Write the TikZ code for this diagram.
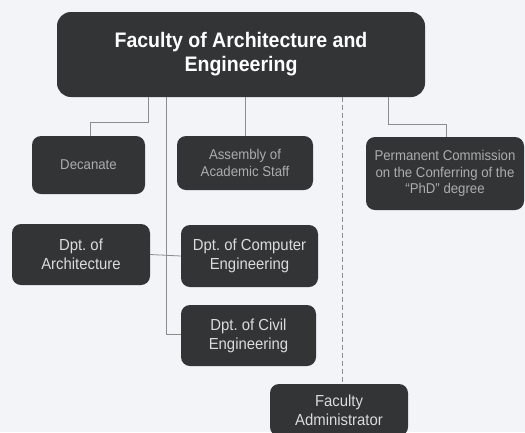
\documentclass[tikz,border=0pt]{standalone}
\usepackage{fontspec}
\setmainfont{Liberation Sans}[FakeStretch=0.93]
\begin{document}
\frenchspacing
\begin{tikzpicture}[x=1pt,y=-1pt,
  unit/.style={fill=boxgrey, rounded corners=9pt, inner sep=0pt, align=center},
  headbox/.style={unit, rounded corners=14pt, text=white, font=\bfseries\fontsize{21}{24}\selectfont},
  dptbox/.style={unit, text=white!86!black, font=\fontsize{16}{19}\selectfont},
  bodybox/.style={unit, text=white!68!black, font=\fontsize{14.2}{16.5}\selectfont},
  link/.style={draw=linegrey, line width=0.8pt},
  dashlink/.style={link, dashed, dash pattern=on 5pt off 3pt}]
\definecolor{boxgrey}{HTML}{333436}
\definecolor{linegrey}{HTML}{8A8C90}
\definecolor{paper}{HTML}{F3F4F7}
\fill[paper] (0,0) rectangle (525,432);
\useasboundingbox (0,0) rectangle (525,432);

% boxes
\node[headbox, minimum width=368pt, minimum height=85pt] (fac) at (241,54.5)
  {Faculty of Architecture and\\Engineering};
\node[bodybox, minimum width=113pt, minimum height=58pt] (dec) at (88.5,165) {Decanate};
\node[bodybox, minimum width=136pt, minimum height=54pt] (asm) at (245,163)
  {Assembly of\\Academic Staff};
\node[bodybox, minimum width=158pt, minimum height=73pt] (phd) at (445,173.5)
  {Permanent Commission\\on the Conferring of the\\``PhD'' degree};
\node[dptbox, minimum width=138pt, minimum height=61pt] (arch) at (81,254.5)
  {Dpt. of\\Architecture};
\node[dptbox, minimum width=137pt, minimum height=62pt] (comp) at (249.5,256)
  {Dpt. of Computer\\Engineering};
\node[dptbox, minimum width=135pt, minimum height=61pt] (civ) at (248.5,335.5)
  {Dpt. of Civil\\Engineering};
\node[dptbox, minimum width=138pt, minimum height=52pt] (adm) at (339,410)
  {Faculty\\Administrator};

% connectors
\coordinate (spine) at (166,334);
\draw[link] (fac.south -| 148,0) |- (90,122) -- (dec.north -| 90,0);
\draw[link] (fac.south -| asm.north) -- (asm.north);
\draw[link] (fac.south -| 388,0) |- (446,124) -- (phd.north -| 446,0);
\draw[link] (fac.south -| spine) -- (spine) -- (civ.west |- spine);
\draw[link] (arch.east) -- (comp.west);
\draw[dashlink] (fac.south -| 342,0) -- (adm.north -| 342,0);
\end{tikzpicture}
\end{document}
